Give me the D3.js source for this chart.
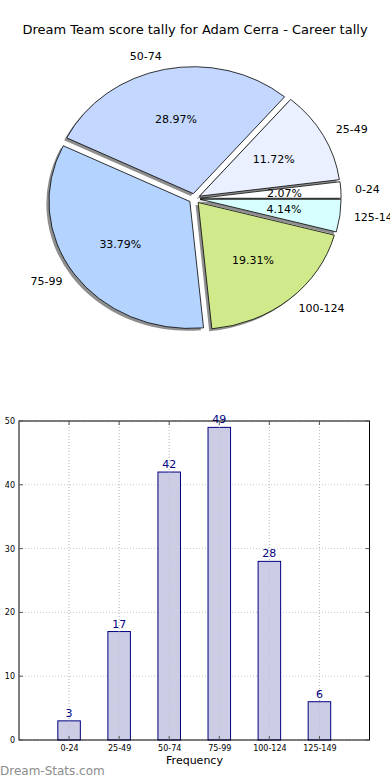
<!DOCTYPE html>
<html><head><meta charset="utf-8">
<script src="https://cdn.jsdelivr.net/npm/d3@7"></script>
<style>
html,body{margin:0;padding:0;background:#fff;}
svg{display:block;font-family:"DejaVu Sans",sans-serif;}
</style></head>
<body><svg id="c" width="390" height="780"></svg>
<script>
const categories = ["0-24","25-49","50-74","75-99","100-124","125-149"];
const counts = [3,17,42,49,28,6];
const pieColors = ["#ffffff","#eaf0ff","#c4d8ff","#b4d4ff","#d0e98a","#d8ffff"];
const yTicks = [0,10,20,30,40,50];
const title = "Dream Team score tally for Adam Cerra - Career tally";

const svg = d3.select("#c");
svg.append("text").attr("x",195).attr("y",34).attr("text-anchor","middle")
  .attr("font-size",13).attr("fill","#000").text(title);

// ---- Pie ----
const cx = 194.5, cy = 198.6, rx = 141, ry = 127, ex = 0.04;
const total = d3.sum(counts);
const pie = d3.pie().sort(null).startAngle(Math.PI/2).endAngle(Math.PI/2 - 2*Math.PI);
const arcs = pie(counts);
const arcGen = d3.arc().innerRadius(0).outerRadius(1);
const mid = a => (a.startAngle + a.endAngle)/2;
const gp = svg.append("g");
// shadows
gp.selectAll("path.sh").data(arcs).enter().append("path")
  .attr("d", arcGen)
  .attr("transform", d => `translate(${cx + ex*rx*Math.sin(mid(d)) - 2.6},${cy - ex*ry*Math.cos(mid(d)) + 2.4}) scale(${rx},${ry})`)
  .attr("fill", "#7a7a7a").attr("fill-opacity", 0.85);
// wedges
gp.selectAll("path.w").data(arcs).enter().append("path")
  .attr("d", arcGen)
  .attr("transform", d => `translate(${cx + ex*rx*Math.sin(mid(d))},${cy - ex*ry*Math.cos(mid(d))}) scale(${rx},${ry})`)
  .attr("fill", (d,i) => pieColors[i])
  .attr("stroke", "#000").attr("stroke-width", 0.8)
  .attr("vector-effect", "non-scaling-stroke");
// labels
gp.selectAll("text.lab").data(arcs).enter().append("text")
  .attr("x", d => cx + (ex+1.1)*rx*Math.sin(mid(d)))
  .attr("y", d => cy - (ex+1.1)*ry*Math.cos(mid(d)))
  .attr("text-anchor", d => Math.sin(mid(d)) > 0 ? "start" : "end")
  .attr("dominant-baseline", "central")
  .attr("font-size", 11).attr("fill", "#000")
  .text((d,i) => categories[i]);
gp.selectAll("text.pct").data(arcs).enter().append("text")
  .attr("x", d => cx + (ex+0.6)*rx*Math.sin(mid(d)))
  .attr("y", d => cy - (ex+0.6)*ry*Math.cos(mid(d)))
  .attr("text-anchor", "middle")
  .attr("dominant-baseline", "central")
  .attr("font-size", 11).attr("fill", "#000")
  .text(d => (d.value/total*100).toFixed(2) + "%");

// ---- Bar chart ----
const x = d3.scaleLinear().domain([-1, 6]).range([19, 369.5]);
const y = d3.scaleLinear().domain([0, 50]).range([740, 421]);
const gb = svg.append("g");
// grid
gb.selectAll("line.gx").data(categories).enter().append("line")
  .attr("x1",(d,i)=>x(i)).attr("x2",(d,i)=>x(i)).attr("y1",y(0)).attr("y2",y(50))
  .attr("stroke","#c8c8c8").attr("stroke-width",1).attr("stroke-dasharray","1,2");
gb.selectAll("line.gy").data(yTicks).enter().append("line")
  .attr("x1",x(-1)).attr("x2",x(6)).attr("y1",d=>y(d)).attr("y2",d=>y(d))
  .attr("stroke","#c8c8c8").attr("stroke-width",1).attr("stroke-dasharray","1,2");
// bars
const bw = 0.45;
gb.selectAll("rect.bar").data(counts).enter().append("rect")
  .attr("x",(d,i)=>x(i - bw/2)).attr("width", x(bw) - x(0))
  .attr("y",d=>y(d)).attr("height",d=>y(0)-y(d))
  .attr("fill","#cccce4").attr("stroke","#000080").attr("stroke-width",1);
// grid drawn again over bars (matplotlib grid above)
gb.selectAll("line.gx2").data(categories).enter().append("line")
  .attr("x1",(d,i)=>x(i)).attr("x2",(d,i)=>x(i)).attr("y1",y(0)).attr("y2",y(50))
  .attr("stroke","#b8b8c8").attr("stroke-width",1).attr("stroke-dasharray","1,2").attr("opacity",0.6);
// value labels
gb.selectAll("text.val").data(counts).enter().append("text")
  .attr("x",(d,i)=>x(i)).attr("y",d=>y(d)-4)
  .attr("text-anchor","middle").attr("font-size",11).attr("fill","#000080")
  .text(d=>d);
// frame
gb.append("rect").attr("x",x(-1)).attr("y",y(50)).attr("width",x(6)-x(-1)).attr("height",y(0)-y(50))
  .attr("fill","none").attr("stroke","#000").attr("stroke-width",1);
// axes
const yAxis = d3.axisLeft(y).tickValues(yTicks).tickSize(0).tickPadding(4);
const ya = gb.append("g").attr("transform",`translate(${x(-1)},0)`).call(yAxis);
ya.select(".domain").remove();
ya.selectAll("text").attr("font-size",8).attr("font-family","DejaVu Sans, sans-serif").attr("fill","#000");
const xAxis = d3.axisBottom(x).tickValues(d3.range(categories.length)).tickFormat(i=>categories[i]).tickSize(0).tickPadding(5);
const xa = gb.append("g").attr("transform",`translate(0,${y(0)})`).call(xAxis);
xa.select(".domain").remove();
xa.selectAll("text").attr("font-size",8).attr("font-family","DejaVu Sans, sans-serif").attr("fill","#000");
// inward ticks
yTicks.forEach(t=>{
  gb.append("line").attr("x1",x(-1)).attr("x2",x(-1)+4).attr("y1",y(t)).attr("y2",y(t)).attr("stroke","#555");
  gb.append("line").attr("x1",x(6)).attr("x2",x(6)-4).attr("y1",y(t)).attr("y2",y(t)).attr("stroke","#555");
});
categories.forEach((c,i)=>{
  gb.append("line").attr("x1",x(i)).attr("x2",x(i)).attr("y1",y(0)).attr("y2",y(0)-4).attr("stroke","#555");
  gb.append("line").attr("x1",x(i)).attr("x2",x(i)).attr("y1",y(50)).attr("y2",y(50)+4).attr("stroke","#555");
});
gb.append("text").attr("x",194.5).attr("y",764).attr("text-anchor","middle")
  .attr("font-size",11).attr("fill","#000").text("Frequency");
svg.append("text").attr("x",0).attr("y",775).attr("font-size",12)
  .attr("fill","#8c8c8c").text("Dream-Stats.com");
</script></body></html>
